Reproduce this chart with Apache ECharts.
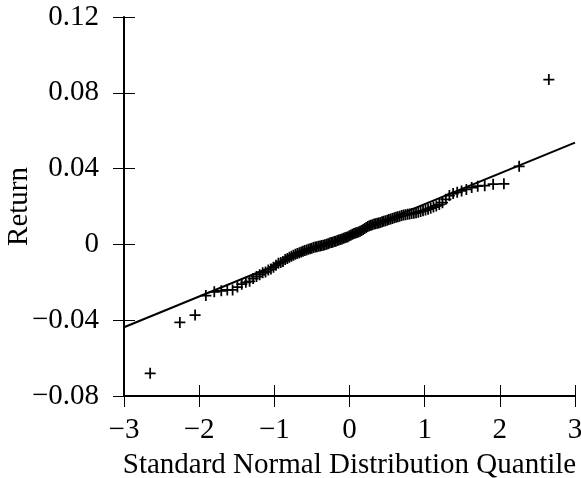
<!DOCTYPE html>
<html>
<head>
<meta charset="utf-8">
<title>QQ plot</title>
<script src="https://cdn.jsdelivr.net/npm/echarts@6/dist/echarts.min.js"></script>
<style>
	html, body { margin: 0; padding: 0; background: #fff; }
	#chart { width: 581px; height: 478px; }
</style>
</head>
<body>
<div id="chart"></div>
<script>
// theoretical quantiles (x) and sorted returns (y)
var qqX = [
	-2.652, -2.257, -2.054, -1.911, -1.799, -1.706, -1.626, -1.555, -1.491, -1.433,
	-1.379, -1.329, -1.282, -1.237, -1.195, -1.155, -1.117, -1.080, -1.045, -1.011,
	-0.978, -0.946, -0.915, -0.885, -0.856, -0.827, -0.799, -0.772, -0.745, -0.719,
	-0.694, -0.668, -0.643, -0.619, -0.595, -0.571, -0.548, -0.524, -0.502, -0.479,
	-0.456, -0.434, -0.412, -0.391, -0.369, -0.348, -0.327, -0.305, -0.285, -0.264,
	-0.243, -0.223, -0.202, -0.182, -0.161, -0.141, -0.121, -0.100, -0.080, -0.060,
	-0.040, -0.020, 0.000, 0.020, 0.040, 0.060, 0.080, 0.100, 0.121, 0.141,
	0.161, 0.182, 0.202, 0.223, 0.243, 0.264, 0.285, 0.305, 0.327, 0.348,
	0.369, 0.391, 0.412, 0.434, 0.456, 0.479, 0.502, 0.524, 0.548, 0.571,
	0.595, 0.619, 0.643, 0.668, 0.694, 0.719, 0.745, 0.772, 0.799, 0.827,
	0.856, 0.885, 0.915, 0.946, 0.978, 1.011, 1.045, 1.080, 1.117, 1.155,
	1.195, 1.237, 1.282, 1.329, 1.379, 1.433, 1.491, 1.555, 1.626, 1.706,
	1.799, 1.911, 2.054, 2.257, 2.652
];
var qqY = [
	-0.0680, -0.0412, -0.0373, -0.0270, -0.0250, -0.0245, -0.0240, -0.0240, -0.0225, -0.0210,
	-0.0200, -0.0195, -0.0180, -0.0170, -0.0160, -0.0150, -0.0145, -0.0135, -0.0130, -0.0120,
	-0.0110, -0.0100, -0.0095, -0.0090, -0.0080, -0.0075, -0.0068, -0.0062, -0.0057, -0.0052,
	-0.0048, -0.0044, -0.0040, -0.0036, -0.0032, -0.0029, -0.0026, -0.0023, -0.0020, -0.0017,
	-0.0014, -0.0012, -0.0010, -0.0008, -0.0006, -0.0004, -0.0002, 0.0001, 0.0004, 0.0007,
	0.0010, 0.0012, 0.0015, 0.0017, 0.0020, 0.0023, 0.0026, 0.0029, 0.0032, 0.0035,
	0.0038, 0.0041, 0.0045, 0.0049, 0.0053, 0.0057, 0.0060, 0.0063, 0.0066, 0.0070,
	0.0074, 0.0079, 0.0084, 0.0089, 0.0094, 0.0098, 0.0101, 0.0104, 0.0107, 0.0109,
	0.0111, 0.0113, 0.0116, 0.0119, 0.0122, 0.0125, 0.0128, 0.0131, 0.0134, 0.0137,
	0.0140, 0.0143, 0.0146, 0.0149, 0.0152, 0.0155, 0.0157, 0.0159, 0.0161, 0.0163,
	0.0165, 0.0167, 0.0170, 0.0173, 0.0177, 0.0181, 0.0186, 0.0191, 0.0197, 0.0203,
	0.0210, 0.0220, 0.0238, 0.0258, 0.0268, 0.0275, 0.0282, 0.0290, 0.0300, 0.0307,
	0.0310, 0.0318, 0.0320, 0.0412, 0.0870
];
// reference line end points
var lineX = [-3, 3];
var lineY = [-0.0437, 0.0537];

var xTicks = [-3, -2, -1, 0, 1, 2, 3];
var xTickLabels = ['\u22123', '\u22122', '\u22121', '0', '1', '2', '3'];
var yTicks = [-0.08, -0.04, 0, 0.04, 0.08, 0.12];
var yTickLabels = ['\u22120.08', '\u22120.04', '0', '0.04', '0.08', '0.12'];

var fontFamily = '"Liberation Serif", "Times New Roman", serif';
var fontSize = 29;
var plusPath = 'path://M4.2,0H5.8V4.2H10V5.8H5.8V10H4.2V5.8H0V4.2H4.2Z';

function tickLabel(ticks, labels) {
	return function (v) {
		for (var i = 0; i < ticks.length; i++) {
			if (Math.abs(ticks[i] - v) < 1e-9) return labels[i];
		}
		return '';
	};
}

var scatterData = [];
for (var i = 0; i < qqX.length; i++) {
	scatterData.push([qqX[i], qqY[i]]);
}
var lineData = [];
for (var j = 0; j < lineX.length; j++) {
	lineData.push([lineX[j], lineY[j]]);
}

var axisLineStyle = { color: '#000', width: 2 };
var tickStyle = { color: '#000', width: 1 };

var chart = echarts.init(document.getElementById('chart'));
chart.setOption({
	animation: false,
	backgroundColor: '#fff',
	grid: {
		left: 124,
		right: 6,
		top: 17,
		bottom: 82,
		containLabel: false,
		outerBoundsMode: 'none'
	},
	xAxis: [{
		type: 'value',
		min: -3,
		max: 3,
		interval: 1,
		position: 'bottom',
		name: 'Standard Normal Distribution Quantile',
		nameLocation: 'middle',
		nameGap: 55,
		nameMoveOverlap: false,
		nameTextStyle: { color: '#000', fontFamily: fontFamily, fontSize: fontSize },
		axisLine: { onZero: false, lineStyle: axisLineStyle },
		axisTick: { length: 11, lineStyle: tickStyle },
		axisLabel: {
			color: '#000',
			fontFamily: fontFamily,
			fontSize: fontSize,
			margin: 20,
			formatter: tickLabel(xTicks, xTickLabels)
		},
		splitLine: { show: false }
	}, {
		// second copy only for the inner half of each tick
		type: 'value',
		min: -3,
		max: 3,
		interval: 1,
		position: 'bottom',
		axisLine: { show: false, onZero: false },
		axisTick: { inside: true, length: 11, lineStyle: tickStyle },
		axisLabel: { show: false },
		splitLine: { show: false }
	}],
	yAxis: [{
		type: 'value',
		min: -0.08,
		max: 0.12,
		interval: 0.04,
		position: 'left',
		name: 'Return',
		nameLocation: 'middle',
		nameGap: 90,
		nameMoveOverlap: false,
		nameTextStyle: { color: '#000', fontFamily: fontFamily, fontSize: fontSize },
		axisLine: { onZero: false, lineStyle: axisLineStyle },
		axisTick: { length: 11, lineStyle: tickStyle },
		axisLabel: {
			color: '#000',
			fontFamily: fontFamily,
			fontSize: fontSize,
			margin: 25,
			formatter: tickLabel(yTicks, yTickLabels)
		},
		splitLine: { show: false }
	}, {
		type: 'value',
		min: -0.08,
		max: 0.12,
		interval: 0.04,
		position: 'left',
		axisLine: { show: false, onZero: false },
		axisTick: { inside: true, length: 11, lineStyle: tickStyle },
		axisLabel: { show: false },
		splitLine: { show: false }
	}],
	series: [{
		type: 'scatter',
		data: scatterData,
		symbol: plusPath,
		symbolSize: 11,
		itemStyle: { color: '#000', opacity: 1 },
		silent: true
	}, {
		type: 'line',
		data: lineData,
		symbol: 'none',
		lineStyle: { color: '#000', width: 2 },
		silent: true
	}]
});
</script>
</body>
</html>
